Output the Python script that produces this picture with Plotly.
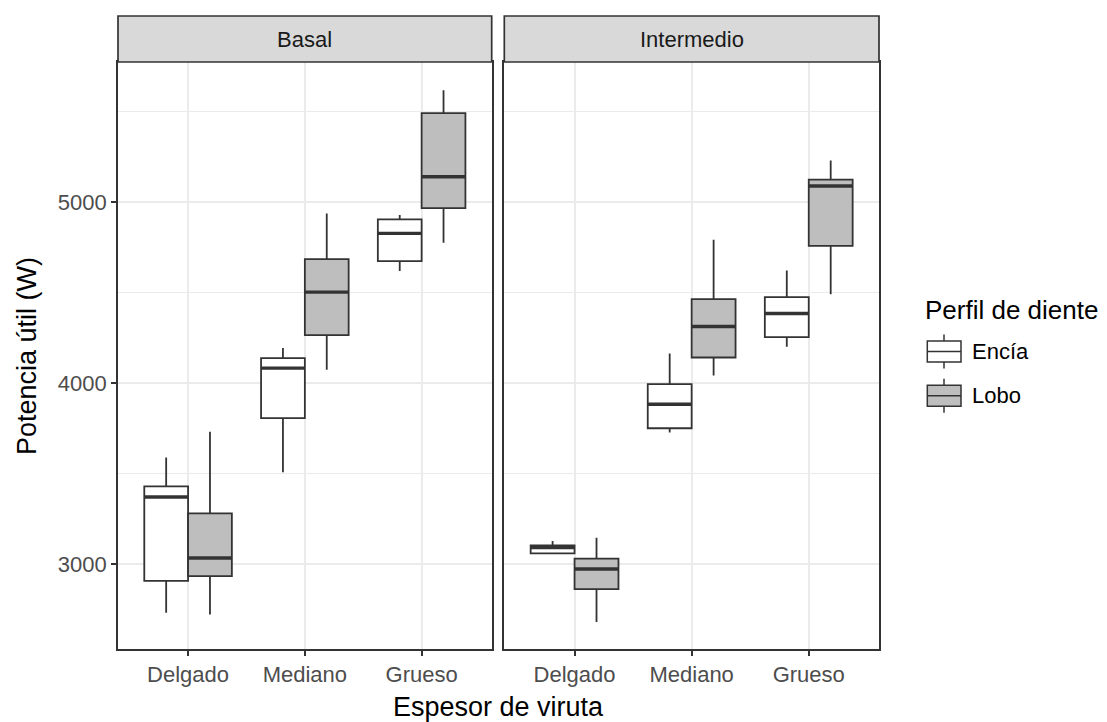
import plotly.graph_objects as go

# ---- data -------------------------------------------------------------
categories = ["Delgado", "Mediano", "Grueso"]
panels = ["Basal", "Intermedio"]
groups = ["Encía", "Lobo"]

# five-number summaries (lower whisker, Q1, median, Q3, upper whisker), in W
basal_encia_low = [2732, 3509, 4621]
basal_encia_q1 = [2908, 3808, 4676]
basal_encia_med = [3372, 4084, 4829]
basal_encia_q3 = [3431, 4139, 4906]
basal_encia_high = [3590, 4196, 4930]

basal_lobo_low = [2723, 4075, 4777]
basal_lobo_q1 = [2935, 4267, 4969]
basal_lobo_med = [3035, 4504, 5142]
basal_lobo_q3 = [3282, 4687, 5494]
basal_lobo_high = [3733, 4939, 5620]

inter_encia_low = [3061, 3728, 4202]
inter_encia_q1 = [3061, 3752, 4256]
inter_encia_med = [3092, 3885, 4386]
inter_encia_q3 = [3105, 3996, 4477]
inter_encia_high = [3129, 4165, 4624]

inter_lobo_low = [2681, 4043, 4493]
inter_lobo_q1 = [2863, 4143, 4760]
inter_lobo_med = [2974, 4314, 5091]
inter_lobo_q3 = [3031, 4466, 5126]
inter_lobo_high = [3147, 4794, 5232]

series = {
    ("Basal", "Encía"): (basal_encia_low, basal_encia_q1, basal_encia_med, basal_encia_q3, basal_encia_high),
    ("Basal", "Lobo"): (basal_lobo_low, basal_lobo_q1, basal_lobo_med, basal_lobo_q3, basal_lobo_high),
    ("Intermedio", "Encía"): (inter_encia_low, inter_encia_q1, inter_encia_med, inter_encia_q3, inter_encia_high),
    ("Intermedio", "Lobo"): (inter_lobo_low, inter_lobo_q1, inter_lobo_med, inter_lobo_q3, inter_lobo_high),
}

# ---- styling ----------------------------------------------------------
W, H = 1107, 722
ML, MR, MT, MB = 118, 228, 62, 73
PW, PH = W - ML - MR, H - MT - MB
FONT = "Liberation Sans, Arial, sans-serif"
DARK = "#333333"
FILLS = {"Encía": "#ffffff", "Lobo": "#bebebe"}
BOX_W = 0.375                     # width of each dodged box (category units)
OFFS = {"Encía": -BOX_W / 2, "Lobo": BOX_W / 2}
Y_RANGE = [2532, 5776]


def px_x(p):
    return (p - ML) / PW


def px_y(p):
    return (H - MB - p) / PH


fig = go.Figure()

for pi, panel in enumerate(panels):
    xa = "x" if pi == 0 else "x2"
    ya = "y" if pi == 0 else "y2"
    for g in groups:
        low, q1, med, q3, high = series[(panel, g)]
        pos = [i + 1 + OFFS[g] for i in range(len(categories))]
        fig.add_trace(go.Box(
            x=pos, lowerfence=low, q1=q1, median=med, q3=q3, upperfence=high,
            width=BOX_W, whiskerwidth=0, fillcolor=FILLS[g],
            line=dict(color=DARK, width=1.8), name=g,
            xaxis=xa, yaxis=ya, showlegend=False, boxpoints=False,
        ))
    # thicker median bars drawn over the boxes
    for g in groups:
        med = series[(panel, g)][2]
        mx, my = [], []
        for i, m in enumerate(med):
            c = i + 1 + OFFS[g]
            mx += [c - BOX_W / 2, c + BOX_W / 2, None]
            my += [m, m, None]
        fig.add_trace(go.Scatter(
            x=mx, y=my, mode="lines", line=dict(color=DARK, width=3.4),
            xaxis=xa, yaxis=ya, showlegend=False, hoverinfo="skip",
        ))

axis_common = dict(
    showline=True, mirror=True, linecolor=DARK, linewidth=1.7,
    showgrid=True, gridcolor="#ebebeb", gridwidth=1.6, zeroline=False,
    ticks="outside", ticklen=5, tickcolor=DARK, tickwidth=1.6,
    tickfont=dict(family=FONT, size=22, color="#4d4d4d"),
)

xd1 = [0, px_x(491.7)]
xd2 = [px_x(504.3), 1]

fig.update_layout(
    width=W, height=H,
    margin=dict(l=ML, r=MR, t=MT, b=MB, pad=0),
    plot_bgcolor="white", paper_bgcolor="white",
    showlegend=False, boxmode="overlay",
    font=dict(family=FONT),
    xaxis=dict(domain=xd1, range=[0.4, 3.6], tickvals=[1, 2, 3], ticktext=categories,
               anchor="y", **axis_common),
    xaxis2=dict(domain=xd2, range=[0.4, 3.6], tickvals=[1, 2, 3], ticktext=categories,
                anchor="y2", **axis_common),
    yaxis=dict(range=Y_RANGE, dtick=1000, tick0=0, anchor="x",
               minor=dict(dtick=500, tick0=0, showgrid=True, gridcolor="#ebebeb", gridwidth=0.9),
               **axis_common),
    yaxis2=dict(range=Y_RANGE, dtick=1000, tick0=0, anchor="x2", matches="y",
                minor=dict(dtick=500, tick0=0, showgrid=True, gridcolor="#ebebeb", gridwidth=0.9),
                **{**axis_common, "ticks": "", "showticklabels": False}),
)

shapes = []
annotations = []

# facet strips
for pi, panel in enumerate(panels):
    xr = "x domain" if pi == 0 else "x2 domain"
    shapes.append(dict(type="rect", xref=xr, yref="paper", x0=0, x1=1,
                       y0=1, y1=px_y(16), fillcolor="#d9d9d9",
                       line=dict(color=DARK, width=1.7), layer="above"))
    annotations.append(dict(xref=xr, yref="paper", x=0.5, y=px_y(39.5), text=panel,
                            showarrow=False, xanchor="center", yanchor="middle",
                            font=dict(family=FONT, size=22, color="#1a1a1a")))

# axis titles
annotations.append(dict(xref="paper", yref="paper", x=px_x(498.5), y=px_y(707),
                        text="Espesor de viruta", showarrow=False,
                        xanchor="center", yanchor="middle",
                        font=dict(family=FONT, size=27, color="#000000")))
annotations.append(dict(xref="paper", yref="paper", x=px_x(27), y=px_y(356),
                        text="Potencia útil (W)", showarrow=False, textangle=-90,
                        xanchor="center", yanchor="middle",
                        font=dict(family=FONT, size=27, color="#000000")))

# legend
annotations.append(dict(xref="paper", yref="paper", x=px_x(923), y=px_y(310),
                        text="Perfil de diente", showarrow=False,
                        xanchor="left", yanchor="middle",
                        font=dict(family=FONT, size=26, color="#000000")))
key_centers = {"Encía": 351.5, "Lobo": 395.8}
kx0, kx1, kxm = 927.3, 961, 944
for g in groups:
    cy = key_centers[g]
    shapes.append(dict(type="line", xref="paper", yref="paper",
                       x0=px_x(kxm), x1=px_x(kxm), y0=px_y(cy - 17), y1=px_y(cy + 17),
                       line=dict(color=DARK, width=1.5)))
    shapes.append(dict(type="rect", xref="paper", yref="paper",
                       x0=px_x(kx0), x1=px_x(kx1), y0=px_y(cy - 10.5), y1=px_y(cy + 10.5),
                       fillcolor=FILLS[g], line=dict(color=DARK, width=1.5)))
    shapes.append(dict(type="line", xref="paper", yref="paper",
                       x0=px_x(kx0), x1=px_x(kx1), y0=px_y(cy), y1=px_y(cy),
                       line=dict(color=DARK, width=1.5)))
    annotations.append(dict(xref="paper", yref="paper", x=px_x(970), y=px_y(cy),
                            text=g, showarrow=False, xanchor="left", yanchor="middle",
                            font=dict(family=FONT, size=22, color="#000000")))

fig.update_layout(shapes=shapes, annotations=annotations)

fig.write_html("out.html")
